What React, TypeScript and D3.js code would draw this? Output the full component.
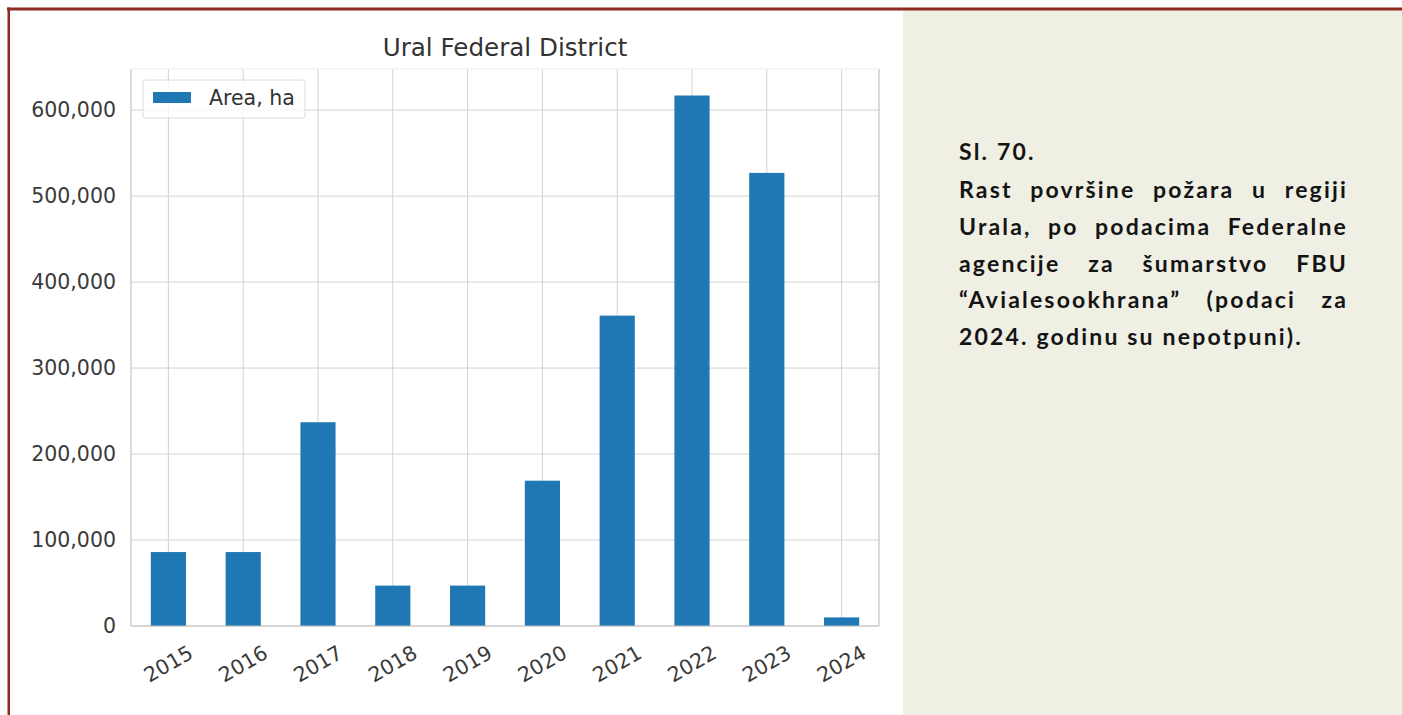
import React from "react";
import * as d3 from "d3";

const years = ["2015", "2016", "2017", "2018", "2019", "2020", "2021", "2022", "2023", "2024"];
const areaHa = [86000, 86000, 237000, 47000, 47000, 169000, 361000, 617000, 527000, 10000];
const yTicks = [0, 100000, 200000, 300000, 400000, 500000, 600000];
const chartTitle = "Ural Federal District";
const legendLabel = "Area, ha";
const captionHead = "Sl. 70.";
const captionLines = [
  "Rast površine požara u regiji",
  "Urala, po podacima Federalne",
  "agencije za šumarstvo FBU",
  "“Avialesookhrana” (podaci za",
];
const captionLast = "2024. godinu su nepotpuni).";

const W = 1402;
const H = 715;
const plot = { left: 131, right: 879, top: 69, bottom: 626 };
const CAP_FONT = "700 23px Lato";
const capX0 = 959;
const capX1 = 1348;

function measure(text: string, font: string, ls = 0): number {
  const c = document.createElement("canvas").getContext("2d");
  if (!c) return text.length * 11;
  c.font = font;
  return c.measureText(text).width + ls * text.length;
}

export default function App() {
  const x = d3.scaleBand<string>().domain(years).range([plot.left, plot.right]).paddingInner(0).paddingOuter(0);
  const y = d3.scaleLinear().domain([0, d3.max(areaHa)! * 1.05]).range([plot.bottom, plot.top]);
  const bw = x.bandwidth() * 0.47;
  const fmt = d3.format(",");

  // letter spacing to match reference width of last caption line
  const natural = measure(captionLast, CAP_FONT);
  const ls = Math.max(0, (344 - natural) / captionLast.length);

  const baseline0 = 198.3;
  const lineH = 36.7;

  const justified = captionLines.map((line, li) => {
    const words = line.split(" ");
    const widths = words.map((w) => measure(w, CAP_FONT, ls));
    const total = widths.reduce((a, b) => a + b, 0);
    const gap = (capX1 - capX0 - total) / (words.length - 1);
    let cx = capX0;
    return words.map((w, i) => {
      const el = (
        <text key={`${li}-${i}`} x={cx} y={baseline0 + li * lineH} style={{ font: CAP_FONT, letterSpacing: `${ls}px` }} fill="#141414">
          {w}
        </text>
      );
      cx += widths[i] + gap;
      return el;
    });
  });

  const tickFont = "DejaVu Sans";
  const grid = "#d2d2d2";

  return (
    <svg width={W} height={H} style={{ position: "absolute", left: 0, top: 0, display: "block", background: "#ffffff" }}>
      {/* beige panel */}
      <rect x={903} y={10} width={W - 903} height={H - 10} fill="#f0efe4" />
      {/* borders */}
      <rect x={7} y={7.5} width={W - 7} height={3} fill="#8e2a1f" />
      <rect x={7.5} y={7.5} width={2.5} height={H - 7.5} fill="#8e2a1f" />

      {/* grid */}
      {yTicks.map((t) => (
        <line key={`gy${t}`} x1={plot.left} x2={plot.right} y1={y(t)} y2={y(t)} stroke={grid} strokeWidth={1} />
      ))}
      {years.map((yr) => (
        <line key={`gx${yr}`} x1={x(yr)! + x.bandwidth() / 2} x2={x(yr)! + x.bandwidth() / 2} y1={plot.top} y2={plot.bottom} stroke={grid} strokeWidth={1} />
      ))}

      {/* bars */}
      {years.map((yr, i) => (
        <rect key={`b${yr}`} x={x(yr)! + x.bandwidth() / 2 - bw / 2} y={y(areaHa[i])} width={bw} height={y(0) - y(areaHa[i])} fill="#1f77b4" />
      ))}

      {/* spines */}
      <line x1={plot.left} x2={plot.left} y1={plot.top} y2={plot.bottom} stroke="#c4c4c4" strokeWidth={1.2} />
      <line x1={plot.right} x2={plot.right} y1={plot.top} y2={plot.bottom} stroke="#c4c4c4" strokeWidth={1.2} />
      <line x1={plot.left} x2={plot.right} y1={plot.bottom} y2={plot.bottom} stroke="#c4c4c4" strokeWidth={1.2} />
      <line x1={plot.left} x2={plot.right} y1={plot.top} y2={plot.top} stroke="#ebebeb" strokeWidth={1} />

      {/* y tick labels */}
      {yTicks.map((t) => (
        <text key={`yl${t}`} x={116} y={y(t)} textAnchor="end" dominantBaseline="central" fontFamily={tickFont} fontSize={20.5} fill="#3a3a3a">
          {fmt(t)}
        </text>
      ))}

      {/* x tick labels */}
      {years.map((yr) => {
        const cx = x(yr)! + x.bandwidth() / 2;
        const cy = 664;
        return (
          <text key={`xl${yr}`} x={cx} y={cy} textAnchor="middle" dominantBaseline="central" fontFamily={tickFont} fontSize={20.5} fill="#3a3a3a" transform={`rotate(-30 ${cx} ${cy})`}>
            {yr}
          </text>
        );
      })}

      {/* title */}
      <text x={(plot.left + plot.right) / 2} y={56} textAnchor="middle" fontFamily={tickFont} fontSize={24.6} fill="#333333">
        {chartTitle}
      </text>

      {/* legend */}
      <rect x={143} y={80} width={162} height={38} rx={3} fill="#ffffff" fillOpacity={0.8} stroke="#dcdcdc" strokeWidth={1} />
      <rect x={153} y={92} width={38} height={11} fill="#1f77b4" />
      <text x={209} y={105} fontFamily={tickFont} fontSize={20.5} fill="#333333">
        {legendLabel}
      </text>

      {/* caption */}
      <text x={capX0} y={159.5} style={{ font: CAP_FONT, letterSpacing: `${ls}px` }} fill="#141414">
        {captionHead}
      </text>
      {justified}
      <text x={capX0} y={baseline0 + captionLines.length * lineH} style={{ font: CAP_FONT, letterSpacing: `${ls}px` }} fill="#141414">
        {captionLast}
      </text>
    </svg>
  );
}
